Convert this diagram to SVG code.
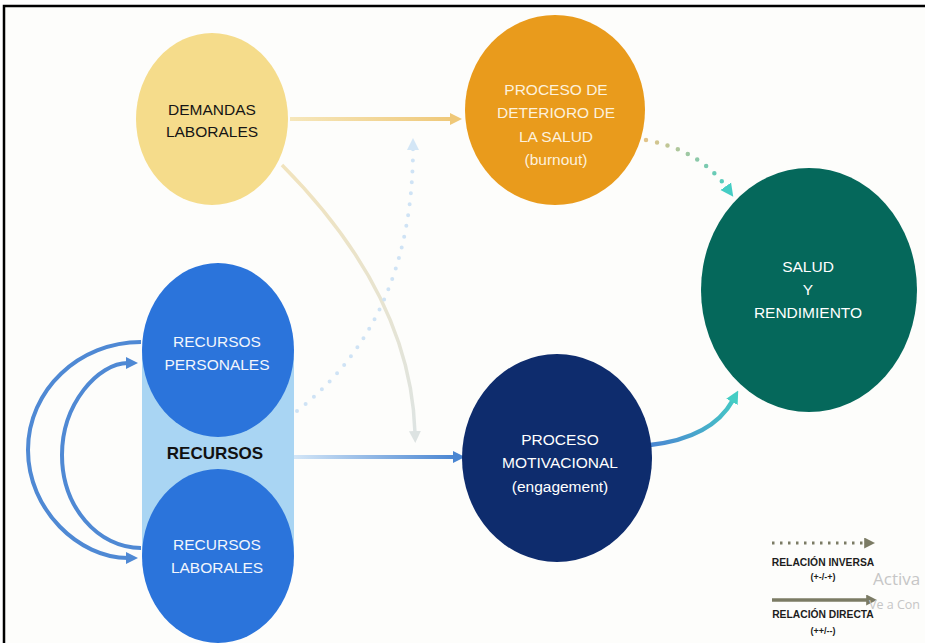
<svg xmlns="http://www.w3.org/2000/svg" width="925" height="643" viewBox="0 0 925 643">
<style>
.t{font-family:"Liberation Sans",Arial,sans-serif;font-size:15.5px;text-anchor:middle}
.w{fill:#ffffff}
.lg{font-family:"Liberation Sans",Arial,sans-serif;font-weight:bold;text-anchor:middle;fill:#1d1d1d}
.wm{font-family:"Open Sans","Noto Sans",sans-serif;fill:#c6c6c6}
</style>
<defs>
<marker id="mY" viewBox="0 0 12 12" refX="2" refY="6" markerWidth="12" markerHeight="13" markerUnits="userSpaceOnUse" orient="auto"><path d="M0,0 L12,6 L0,12 z" fill="#efc878"/></marker>
<marker id="mP" viewBox="0 0 12 12" refX="2" refY="6" markerWidth="12" markerHeight="13" markerUnits="userSpaceOnUse" orient="auto"><path d="M0,0 L12,6 L0,12 z" fill="#dde3e2"/></marker>
<marker id="mD" viewBox="0 0 12 12" refX="2" refY="6" markerWidth="12" markerHeight="13" markerUnits="userSpaceOnUse" orient="auto"><path d="M0,0 L12,6 L0,12 z" fill="#d3e6f6"/></marker>
<marker id="mB" viewBox="0 0 12 12" refX="2" refY="6" markerWidth="12" markerHeight="13" markerUnits="userSpaceOnUse" orient="auto"><path d="M0,0 L12,6 L0,12 z" fill="#4a86d2"/></marker>
<marker id="mT" viewBox="0 0 12 12" refX="2" refY="6" markerWidth="13" markerHeight="14" markerUnits="userSpaceOnUse" orient="auto"><path d="M0,0 L12,6 L0,12 z" fill="#45cdc4"/></marker>
<marker id="mA" viewBox="0 0 12 12" refX="2" refY="6" markerWidth="12" markerHeight="13" markerUnits="userSpaceOnUse" orient="auto"><path d="M0,0 L12,6 L0,12 z" fill="#4f89d4"/></marker>
<marker id="mL" viewBox="0 0 12 12" refX="2" refY="6" markerWidth="11" markerHeight="11" markerUnits="userSpaceOnUse" orient="auto"><path d="M0,0 L12,6 L0,12 z" fill="#7b7b64"/></marker>
<linearGradient id="gY" gradientUnits="userSpaceOnUse" x1="290" y1="0" x2="455" y2="0"><stop offset="0" stop-color="#f6e7bb"/><stop offset="1" stop-color="#efc878"/></linearGradient>
<linearGradient id="gP" gradientUnits="userSpaceOnUse" x1="0" y1="165" x2="0" y2="440"><stop offset="0" stop-color="#f1e3bd"/><stop offset="1" stop-color="#dde4e4"/></linearGradient>
<linearGradient id="gB" gradientUnits="userSpaceOnUse" x1="294" y1="0" x2="455" y2="0"><stop offset="0" stop-color="#d3e6f7"/><stop offset="1" stop-color="#4a86d2"/></linearGradient>
<linearGradient id="gO" gradientUnits="userSpaceOnUse" x1="645" y1="140" x2="730" y2="192"><stop offset="0" stop-color="#e3c488"/><stop offset="1" stop-color="#45cdc4"/></linearGradient>
<linearGradient id="gN" gradientUnits="userSpaceOnUse" x1="650" y1="445" x2="740" y2="395"><stop offset="0" stop-color="#4a86d2"/><stop offset="1" stop-color="#45cdc4"/></linearGradient>
</defs>
<rect x="0" y="0" width="925" height="643" fill="#ffffff"/>
<rect x="4" y="6" width="930" height="650" fill="#fdfdfb" stroke="#000000" stroke-width="2.5"/>

<g id="connectors" fill="none">
<path d="M290 119 L452 119" stroke="url(#gY)" stroke-width="4" marker-end="url(#mY)"/>
<path d="M282 165 Q411 295 415 433" stroke="url(#gP)" stroke-width="3.5" marker-end="url(#mP)"/>
<path d="M297 411 Q413 320 413 148" stroke="#cfe3f5" stroke-width="4" stroke-linecap="round" stroke-dasharray="0 11" marker-end="url(#mD)"/>
<path d="M294 457 L455 457" stroke="url(#gB)" stroke-width="4" marker-end="url(#mB)"/>
<path d="M646 140 Q700 150 727 188" stroke="url(#gO)" stroke-width="4.5" stroke-linecap="round" stroke-dasharray="0 11" marker-end="url(#mT)"/>
<path d="M650 445 Q712 438 733 400" stroke="url(#gN)" stroke-width="4.5" marker-end="url(#mT)"/>
<path d="M141 342 C79 342 28 390 28 450 C28 510 79 558 128 558" stroke="#4f89d4" stroke-width="4" marker-end="url(#mA)"/>
<path d="M141 548 C98 548 62 507 62 455 C62 404 98 363 128 363" stroke="#4f89d4" stroke-width="4" marker-end="url(#mA)"/>
</g>

<g id="demandas">
<ellipse cx="212" cy="119" rx="76" ry="86" fill="#f5dc8b"/>
<text class="t" x="212" y="115" fill="#151515">DEMANDAS</text>
<text class="t" x="212" y="137" fill="#151515">LABORALES</text>
</g>

<g id="deterioro">
<ellipse cx="555" cy="110" rx="90" ry="95" fill="#e99b1c"/>
<text class="t" x="556" y="95" fill="#fdf1dd">PROCESO DE</text>
<text class="t" x="556" y="118" fill="#fdf1dd">DETERIORO DE</text>
<text class="t" x="556" y="142" fill="#fdf1dd">LA SALUD</text>
<text class="t" x="556" y="165" fill="#fdf1dd" font-size="15">(burnout)</text>
</g>

<g id="salud">
<ellipse cx="809" cy="290" rx="108" ry="122" fill="#05685b"/>
<text class="t w" x="808" y="272">SALUD</text>
<text class="t w" x="808" y="295">Y</text>
<text class="t w" x="808" y="318">RENDIMIENTO</text>
</g>

<g id="motivacional">
<ellipse cx="557" cy="458" rx="95" ry="104" fill="#0e2c6d"/>
<text class="t w" x="560" y="445">PROCESO</text>
<text class="t w" x="560" y="468">MOTIVACIONAL</text>
<text class="t w" x="560" y="492">(engagement)</text>
</g>

<g id="recursos">
<rect x="142" y="350" width="152" height="205" fill="#a9d5f3"/>
<text x="215" y="459" font-family="Liberation Sans, Arial, sans-serif" font-weight="bold" font-size="17" text-anchor="middle" fill="#111111">RECURSOS</text>
</g>

<g id="recursos-personales">
<ellipse cx="218" cy="350" rx="76" ry="87" fill="#2b74db"/>
<text class="t" x="217" y="347" fill="#f2f6fd">RECURSOS</text>
<text class="t" x="217" y="370" fill="#f2f6fd">PERSONALES</text>
</g>

<g id="recursos-laborales">
<ellipse cx="218" cy="556" rx="76" ry="87" fill="#2b74db"/>
<text class="t" x="217" y="550" fill="#f2f6fd">RECURSOS</text>
<text class="t" x="217" y="573" fill="#f2f6fd">LABORALES</text>
</g>

<g id="legend">
<path d="M772 543 L866 543" stroke="#7b7b64" stroke-width="3" stroke-dasharray="2.5 5.5" fill="none" marker-end="url(#mL)"/>
<text class="lg" x="823" y="566" font-size="10.3">RELACIÓN INVERSA</text>
<text class="lg" x="823" y="580" font-size="9" font-weight="normal">(+-/-+)</text>
<path d="M772 600 L868 600" stroke="#7b7b64" stroke-width="3.5" fill="none" marker-end="url(#mL)"/>
<text class="lg" x="823" y="618" font-size="10.3">RELACIÓN DIRECTA</text>
<text class="lg" x="823" y="634" font-size="9" font-weight="normal">(++/--)</text>
</g>

<g id="watermark">
<text class="wm" x="873" y="585" font-size="17">Activa</text>
<text class="wm" x="869" y="609" font-size="12.5">Ve a Con</text>
</g>
</svg>
